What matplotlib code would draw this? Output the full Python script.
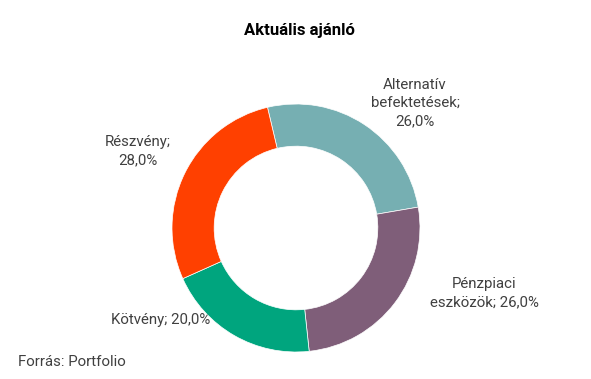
import matplotlib.pyplot as plt

labels = ["Alternatív\nbefektetések;\n26,0%", "Pénzpiaci\neszközök; 26,0%", "Kötvény; 20,0%", "Részvény;\n28,0%"]
values = [26.0, 26.0, 20.0, 28.0]
colors = ["#76AFB2", "#7F5E79", "#00A57E", "#FF4000"]

# label centres in pixel coords (y from top)
label_pos = [(415, 103), (484, 293), (161, 320), (138, 151)]

plt.rcParams['font.family'] = ['Roboto', 'DejaVu Sans']
txt = "#404040"

W, H = 591, 379
fig = plt.figure(figsize=(W / 100, H / 100), dpi=100)
ax = fig.add_axes([0, 0, 1, 1])

cx, cy, r = 296, H - 228, 124
ax.pie(values, colors=colors, startangle=103.3, counterclock=False,
       center=(cx, cy), radius=r, frame=True,
       wedgeprops=dict(width=r * 0.34, linewidth=0.5, edgecolor='white'))
ax.set_xlim(0, W)
ax.set_ylim(0, H)
ax.set_aspect('equal')
ax.axis('off')

for lab, (x, y) in zip(labels, label_pos):
    ax.text(x, H - y, lab, ha='center', va='center', fontsize=10.8,
            color=txt, linespacing=1.4)

ax.text(299, H - 30, "Aktuális ajánló", ha='center', va='center',
        fontsize=12, fontweight='bold', color='black')
ax.text(18, H - 362, "Forrás: Portfolio", ha='left', va='center',
        fontsize=10.8, color=txt)

fig.savefig("out.png", dpi=100)
